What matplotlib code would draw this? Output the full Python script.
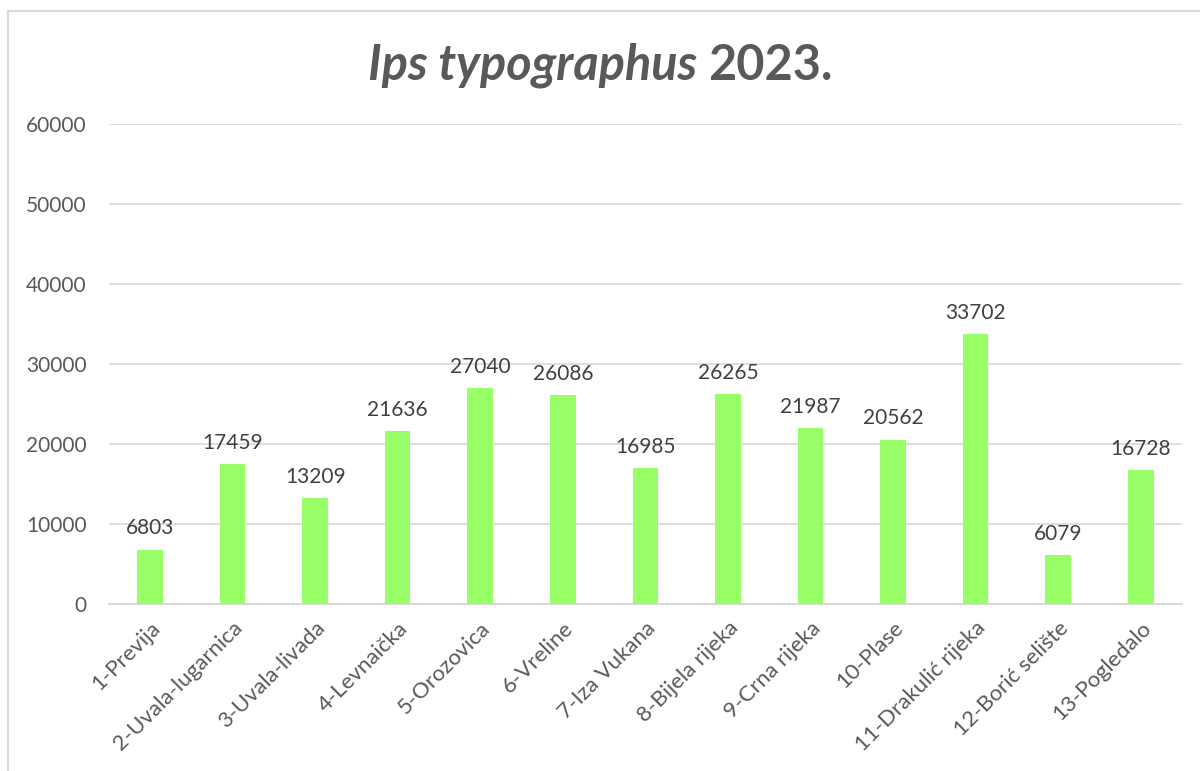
import matplotlib.pyplot as plt
from matplotlib.lines import Line2D

# podaci
lokacije = ["1-Previja", "2-Uvala-lugarnica", "3-Uvala-livada", "4-Levnaička",
            "5-Orozovica", "6-Vreline", "7-Iza Vukana", "8-Bijela rijeka",
            "9-Crna rijeka", "10-Plase", "11-Drakulić rijeka", "12-Borić selište",
            "13-Pogledalo"]
broj = [6803, 17459, 13209, 21636, 27040, 26086, 16985, 26265, 21987,
        20562, 33702, 6079, 16728]
y_ticks = [0, 10000, 20000, 30000, 40000, 50000, 60000]

plt.rcParams["font.family"] = ["Lato", "DejaVu Sans"]

fig = plt.figure(figsize=(12, 7.71), dpi=100)
ax = fig.add_axes([0.0906, 0.2166, 0.8944, 0.6224])

x = list(range(len(lokacije)))
bars = ax.bar(x, broj, width=0.31, color="#99FF66", zorder=3)

for xi, v in zip(x, broj):
    ax.annotate(str(v), (xi, v), xytext=(0, 8), textcoords="offset points",
                ha="center", va="bottom", fontsize=15, color="#404040")

ax.set_xlim(-0.5, len(lokacije) - 0.5)
ax.set_ylim(0, 60000)
ax.set_yticks(y_ticks)
ax.set_yticklabels([str(t) for t in y_ticks], fontsize=15, color="#595959")
ax.set_xticks(x)
ax.set_xticklabels(lokacije, rotation=45, ha="right", rotation_mode="anchor",
                   fontsize=16, color="#595959")
ax.tick_params(axis="both", length=0)
ax.tick_params(axis="y", pad=16)
ax.tick_params(axis="x", pad=10)

ax.grid(axis="y", color="#D9D9D9", linewidth=1.2, zorder=0)
for s in ["top", "right", "left"]:
    ax.spines[s].set_visible(False)
ax.spines["bottom"].set_color("#D9D9D9")
ax.spines["bottom"].set_linewidth(1.5)

# naslov: kurziv + obicni dio, centrirano
t1 = fig.text(0.5, 0.915, "Ips typographus ", fontsize=35, fontstyle="italic",
              fontweight="bold", color="#595959", ha="left", va="center")
t2 = fig.text(0.5, 0.915, "2023.", fontsize=35, fontweight="bold",
              color="#595959", ha="left", va="center")
r = fig.canvas.get_renderer()
w1 = t1.get_window_extent(r).width / fig.bbox.width
w2 = t2.get_window_extent(r).width / fig.bbox.width
x0 = 0.5 - (w1 + w2) / 2
t1.set_x(x0)
t2.set_x(x0 + w1)

# okvir grafikona
fig.add_artist(Line2D([8 / 1200, 8 / 1200], [0, 1 - 11 / 771], color="#D9D9D9", linewidth=1.5))
fig.add_artist(Line2D([8 / 1200, 1], [1 - 11 / 771, 1 - 11 / 771], color="#D9D9D9", linewidth=1.5))

plt.savefig("out.png", dpi=100)
